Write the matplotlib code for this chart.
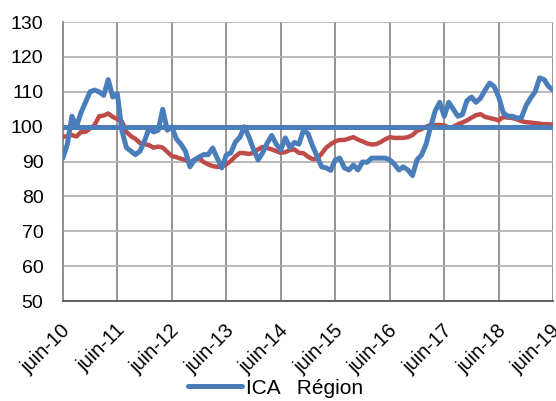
import matplotlib.pyplot as plt
from matplotlib.lines import Line2D
from matplotlib.transforms import ScaledTranslation

plt.rcParams['font.family'] = ['Liberation Sans', 'DejaVu Sans']

# Séries mensuelles, juin 2010 -> juin 2019
ica = [91, 95, 103, 100, 104, 107, 110, 110.5, 110, 109,
       113.5, 108.5, 109.5, 99, 94, 93, 92, 93, 96, 99.5,
       98.5, 99, 105, 99, 100, 96.5, 95, 93, 88.5, 90.5,
       91.3, 92, 92, 93.9, 91, 88.2, 91.9, 92.5, 95.6, 97,
       100, 97, 93.5, 90.5, 92.5, 95.3, 97.5, 95, 93.3, 96.8,
       94, 95.5, 95, 99, 98, 94.5, 91.5, 88.5, 88.2, 87.5,
       90.5, 91, 88.2, 87.6, 89, 87.6, 89.9, 89.8, 91, 91,
       91, 91, 90.5, 89.3, 87.6, 88.5, 87.6, 86, 90.5, 91.9,
       95, 100, 104.5, 107, 103, 107, 105, 103, 103.5, 107.5,
       108.5, 107, 108.2, 110.5, 112.5, 111.5, 108.5, 104, 103, 103,
       102.5, 102.6, 106, 108.2, 110, 114, 113.5, 111.5, 110.5]

region = [97.1, 97.3, 97.6, 97.2, 98.5, 98.5, 99.5, 100.5, 103, 103.2,
          103.8, 102.8, 102.2, 101.5, 98.5, 97.3, 96.5, 95.3, 95, 94.7,
          94, 94.3, 94, 92.8, 91.6, 91.3, 90.8, 90.5, 89.8, 90.5,
          91, 89.9, 89.2, 88.7, 88.5, 88.5, 89.2, 90.2, 91.5, 92.5,
          92.4, 92.2, 92.5, 93.5, 94.2, 93.9, 93.5, 93, 92.5, 92.7,
          93.3, 93.5, 92.5, 92.4, 91.4, 90.7, 90.8, 92.3, 94, 95,
          95.8, 96.2, 96.2, 96.6, 97, 96.3, 95.8, 95.2, 94.9, 95,
          95.6, 96.4, 97, 96.8, 96.8, 96.8, 97, 97.6, 98.8, 99.3,
          100, 100.5, 100.5, 100.5, 100.4, 99.7, 100, 100.7, 101.2, 101.8,
          102.6, 103.3, 103.6, 102.8, 102.5, 102.2, 101.8, 102.8, 102.6, 102.5,
          102.1, 101.6, 101.3, 101.2, 101, 100.9, 100.7, 100.7, 100.6]

base = 100
tick_labels = ['juin-10', 'juin-11', 'juin-12', 'juin-13', 'juin-14',
               'juin-15', 'juin-16', 'juin-17', 'juin-18', 'juin-19']

blue = '#4A7EBB'
red = '#BE4B48'

fig = plt.figure(figsize=(5.56, 4.01), dpi=100)
ax = fig.add_axes([0.113, 0.249, 0.882, 0.696])

months = range(len(ica))
ax.plot(months, region, color=red, lw=3.2, solid_capstyle='round', zorder=3)
ax.plot([0, len(ica) - 1], [base, base], color=blue, lw=3.6, zorder=4)
ax.plot(months, ica, color=blue, lw=3.6, solid_capstyle='round', zorder=5)

ax.set_xlim(0, len(ica) - 1)
ax.set_ylim(50, 130)
ax.set_yticks(range(50, 131, 10))
ax.set_xticks(range(0, len(ica), 12))
ax.set_xticklabels(tick_labels, rotation=45, ha='right', rotation_mode='anchor')

ax.tick_params(axis='y', length=0, pad=14, labelsize=14)
ax.tick_params(axis='x', length=0, pad=14, labelsize=14.5)
# petit recalage horizontal des dates
shift = ScaledTranslation(-1.5 / 72, 0, fig.dpi_scale_trans)
for lab in ax.get_xticklabels():
    lab.set_transform(lab.get_transform() + shift)

ax.grid(axis='x', color='#8c8c8c', lw=1.3)
ax.grid(axis='y', color='#b4b4b4', lw=1.3)
ax.set_axisbelow(True)
for s in ['top', 'right']:
    ax.spines[s].set_visible(False)
ax.spines['left'].set_color('#8c8c8c')
ax.spines['left'].set_linewidth(1.3)
ax.spines['bottom'].set_color('#555555')
ax.spines['bottom'].set_linewidth(1.3)

handle = Line2D([], [], color=blue, lw=3.6, solid_capstyle='round')
fig.legend([handle], ['ICA   Région'], loc='center', bbox_to_anchor=(0.496, 0.032),
           frameon=False, fontsize=15, handlelength=2.6, handletextpad=0.2)

fig.savefig('out.png', dpi=100)
